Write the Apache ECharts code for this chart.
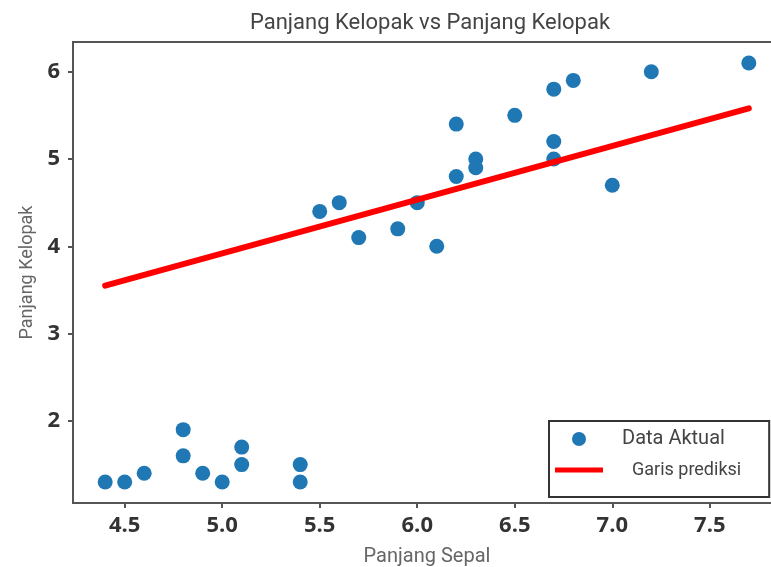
<!DOCTYPE html>
<html><head><meta charset="utf-8">
<script src="https://cdn.jsdelivr.net/npm/echarts@6/dist/echarts.min.js"></script>
<style>html,body{margin:0;padding:0;background:#fff}#c{width:771px;height:567px}</style>
</head><body><div id="c"></div>
<script>
const sepalLength = [4.4,4.5,4.6,4.8,4.8,4.9,5.0,5.1,5.1,5.4,5.4,5.5,5.6,5.7,5.9,6.0,6.1,6.2,6.2,6.3,6.3,6.5,6.7,6.7,6.7,6.8,7.0,7.2,7.7];
const petalLength = [1.3,1.3,1.4,1.9,1.6,1.4,1.3,1.7,1.5,1.5,1.3,4.4,4.5,4.1,4.2,4.5,4.0,5.4,4.8,5.0,4.9,5.5,5.8,5.2,5.0,5.9,4.7,6.0,6.1];
const predX = [4.4, 7.7];
const predY = [3.55, 5.58];
const xTicks = [4.5,5.0,5.5,6.0,6.5,7.0,7.5];
const yTicks = [2,3,4,5,6];

const chart = echarts.init(document.getElementById('c'));
const font = 'Roboto, "Open Sans", sans-serif';
const tickFont = '"Open Sans", sans-serif';
chart.setOption({
  animation:false,
  title:{text:'Panjang Kelopak vs Panjang Kelopak', left:425, top:7, textAlign:'center',
    textStyle:{fontFamily:font, fontSize:22, fontWeight:'normal', color:'#444'}},
  grid:{left:73, width:708, top:42, bottom:64, outerBoundsMode:'none', containLabel:false,
    show:true, borderColor:'#555', borderWidth:2},
  legend:{orient:'vertical', left:549, top:421,
    borderColor:'#333', borderWidth:2, padding:[8,28,18,6], itemGap:12,
    itemWidth:48, itemHeight:14, symbolKeepAspect:true,
    textStyle:{fontFamily:font, fontSize:20, color:'#444'},
    data:[{name:'Data Aktual', textStyle:{padding:[0,0,0,14]}},
          {name:'Garis prediksi', icon:'path://M0,0H48V5H0Z', itemStyle:{color:'#ff0000', borderWidth:0},
            textStyle:{padding:[0,0,0,24], fontSize:18}}]},
  xAxis:{type:'value', min:4.235, max:7.865, name:'Panjang Sepal', nameLocation:'middle', nameGap:44,
    nameTextStyle:{fontFamily:font, fontSize:20, color:'#666'},
    splitLine:{show:false},
    axisLine:{show:true, lineStyle:{color:'#555', width:2}},
    axisTick:{show:true, length:5, customValues:xTicks, lineStyle:{color:'#555', width:2}},
    axisLabel:{customValues:xTicks, margin:12, fontFamily:tickFont, fontSize:22, fontWeight:'bold', color:'#333',
      formatter:v=>v.toFixed(1)}},
  yAxis:{type:'value', min:1.06, max:6.34, name:'Panjang Kelopak', nameLocation:'middle', nameGap:37, nameRotate:90,
    nameTextStyle:{fontFamily:font, fontSize:18, color:'#666'},
    splitLine:{show:false},
    axisLine:{show:true, lineStyle:{color:'#555', width:2}},
    axisTick:{show:true, length:5, customValues:yTicks, lineStyle:{color:'#555', width:2}},
    axisLabel:{customValues:yTicks, margin:13, fontFamily:tickFont, fontSize:22, fontWeight:'bold', color:'#333'}},
  series:[
    {name:'Data Aktual', type:'scatter', symbolSize:15, itemStyle:{color:'#1f77b4', opacity:1},
      data: sepalLength.map((x,i)=>[x, petalLength[i]]), z:3},
    {name:'Garis prediksi', type:'line', symbol:'none', lineStyle:{color:'#ff0000', width:6, cap:'round'},
      itemStyle:{color:'#ff0000'},
      data: predX.map((x,i)=>[x, predY[i]]), z:4}
  ]
});
</script></body></html>
